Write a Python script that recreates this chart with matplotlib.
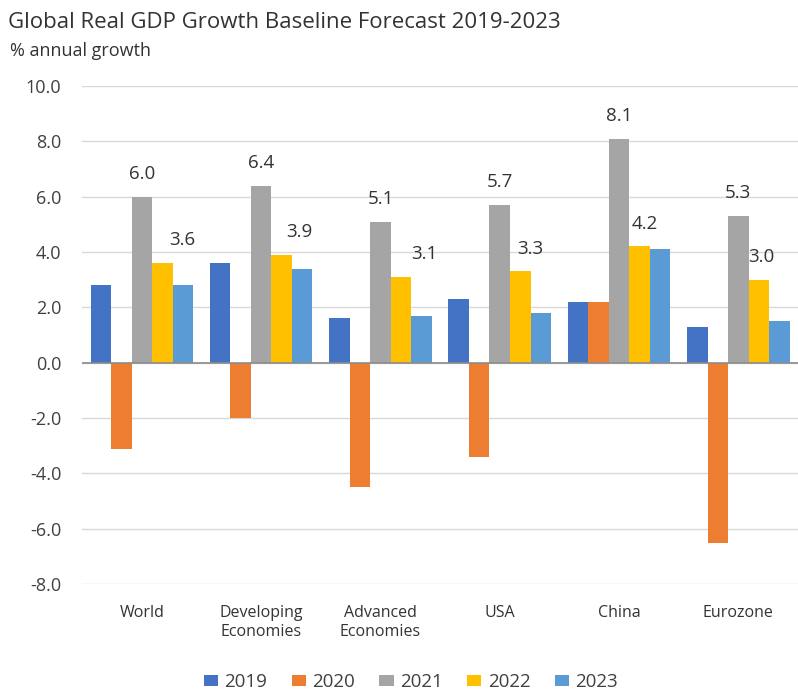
import matplotlib
matplotlib.use("Agg")
import matplotlib.pyplot as plt
import numpy as np
from matplotlib.patches import Patch

plt.rcParams['font.family'] = ['Open Sans', 'DejaVu Sans']

regions = ["World", "Developing\nEconomies", "Advanced\nEconomies", "USA", "China", "Eurozone"]
years = ["2019", "2020", "2021", "2022", "2023"]
growth_2019 = [2.8, 3.6, 1.6, 2.3, 2.2, 1.3]
growth_2020 = [-3.1, -2.0, -4.5, -3.4, 2.2, -6.5]
growth_2021 = [6.0, 6.4, 5.1, 5.7, 8.1, 5.3]
growth_2022 = [3.6, 3.9, 3.1, 3.3, 4.2, 3.0]
growth_2023 = [2.8, 3.4, 1.7, 1.8, 4.1, 1.5]
yticks = [10.0, 8.0, 6.0, 4.0, 2.0, 0.0, -2.0, -4.0, -6.0, -8.0]

series = [growth_2019, growth_2020, growth_2021, growth_2022, growth_2023]
colors = ["#4472C4", "#ED7D31", "#A5A5A5", "#FFC000", "#5B9BD5"]
# horizontal nudges (points) for the value labels of each labelled series
label_shift = {"2021": [0, 0, 0, 0, 0, 0],
               "2022": [14, 13, 17, 7, 4, 2]}

fig = plt.figure(figsize=(7.98, 6.93), dpi=100)
ax = fig.add_axes([0.103, 0.157, 0.897, 0.719])

x = np.arange(len(regions))
w = 0.172
for i, (yr, vals, c) in enumerate(zip(years, series, colors)):
    pos = x + (i - 2) * w
    bars = ax.bar(pos, vals, width=w, color=c, zorder=3, label=yr)
    if yr in label_shift:
        for b, v, dx in zip(bars, vals, label_shift[yr]):
            ax.annotate(f"{v:.1f}", (b.get_x() + b.get_width() / 2, v),
                        xytext=(dx, 10), textcoords="offset points",
                        ha="center", va="bottom", fontsize=13.5, color="#333333")

ax.set_xlim(-0.5, len(regions) - 0.5)
ax.set_ylim(-8, 10)
ax.set_yticks(yticks)
ax.set_yticklabels([f"{t:.1f}" for t in yticks], fontsize=13, color="#404040")
ax.yaxis.grid(True, color="#D9D9D9", linewidth=1, zorder=0)
ax.axhline(0, color="#8C8C8C", linewidth=1.2, zorder=4)
for s in ax.spines.values():
    s.set_visible(False)
ax.tick_params(axis="y", length=0, pad=15)
ax.tick_params(axis="x", length=0, pad=15)
ax.set_xticks(x)
ax.set_xticklabels(regions, fontsize=11.5, color="#333333", linespacing=1.25)

fig.text(0.01, 0.968, "Global Real GDP Growth Baseline Forecast 2019-2023",
         fontsize=16, color="#333333", ha="left", va="center")
fig.text(0.013, 0.927, "% annual growth", fontsize=13, color="#333333",
         ha="left", va="center")

handles = [Patch(facecolor=c, label=y) for y, c in zip(years, colors)]
fig.legend(handles=handles, loc="center", bbox_to_anchor=(0.515, 0.016),
           ncol=5, frameon=False, fontsize=13.5, handlelength=0.75,
           handleheight=0.55, columnspacing=1.3, handletextpad=0.35,
           labelcolor="#404040")

fig.savefig("out.png", dpi=100, facecolor="white")
